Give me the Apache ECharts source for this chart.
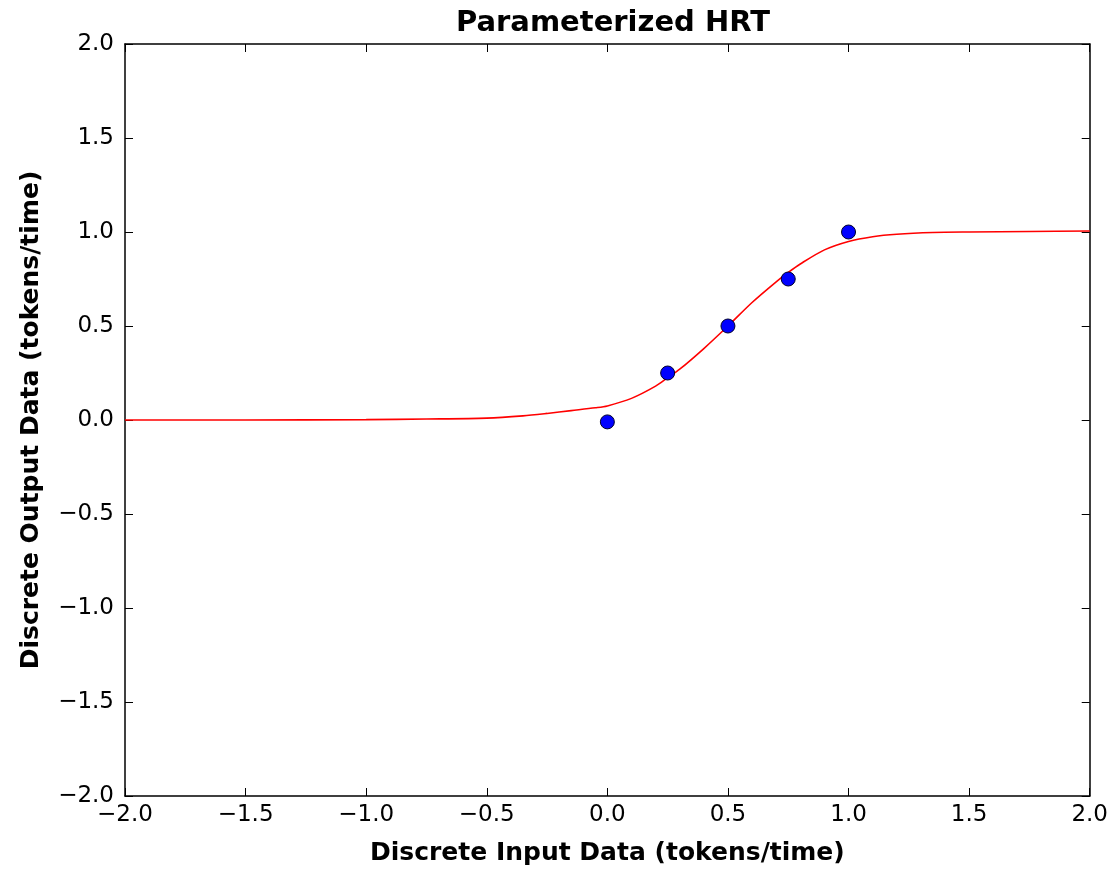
<!DOCTYPE html>
<html><head><meta charset="utf-8">
<script src="https://cdn.jsdelivr.net/npm/echarts@6/dist/echarts.min.js"></script>
<style>html,body{margin:0;padding:0;background:#fff}#c{width:1111px;height:871px}</style>
</head><body><div id="c"></div>
<script>
// Fitted HRT curve
var curveX = [-2.0,-1.5,-1.0,-0.75,-0.5,-0.35,-0.25,-0.15,-0.05,0.0,0.1,0.2,0.25,0.3,0.4,0.5,0.6,0.7,0.75,0.8,0.9,1.0,1.1,1.2,1.35,1.5,1.75,2.0];
var curveY = [0.0,0.0,0.002,0.005,0.01,0.022,0.035,0.05,0.065,0.075,0.115,0.18,0.225,0.27,0.38,0.5,0.625,0.735,0.785,0.83,0.905,0.95,0.975,0.988,0.997,1.0,1.003,1.005];
// Observed discrete data points
var pointX = [0.0,0.25,0.5,0.75,1.0];
var pointY = [-0.01,0.25,0.5,0.75,1.0];
var xTicks = [-2.0,-1.5,-1.0,-0.5,0.0,0.5,1.0,1.5,2.0];
var yTicks = [-2.0,-1.5,-1.0,-0.5,0.0,0.5,1.0,1.5,2.0];

var FONT = "DejaVu Sans";
function fmt(v){ var s = v.toFixed(1); return s.replace('-', '\u2212'); }
var curve = curveX.map(function(x,i){return [x, curveY[i]];});
var pts = pointX.map(function(x,i){return [x, pointY[i]];});

var tickCommon = {show:true, inside:true, length:8, lineStyle:{color:'#000', width:1}};
var lineCommon = {show:true, onZero:false, lineStyle:{color:'#000', width:1.5}};

var chart = echarts.init(document.getElementById('c'), null, {renderer:'canvas'});
chart.setOption({
  backgroundColor:'#fff',
  animation:false,
  title:{text:'Parameterized HRT', left:608, textAlign:'center', top:4, textStyle:{fontFamily:FONT, fontWeight:'bold', fontSize:29, color:'#000'}},
  grid:{left:125, right:19, top:44, bottom:74, containLabel:false},
  xAxis:[{
    type:'value', min:xTicks[0], max:xTicks[xTicks.length-1], interval:0.5, position:'bottom',
    name:'Discrete Input Data (tokens/time)', nameLocation:'middle', nameGap:45,
    nameTextStyle:{fontFamily:FONT, fontWeight:'bold', fontSize:25, color:'#000'},
    axisLine:lineCommon, axisTick:tickCommon, splitLine:{show:false},
    axisLabel:{fontFamily:FONT, fontSize:23, color:'#000', margin:8, formatter:fmt, showMinLabel:true, showMaxLabel:true}
  },{
    type:'value', min:xTicks[0], max:xTicks[xTicks.length-1], interval:0.5, position:'top',
    axisLine:lineCommon, axisTick:tickCommon, splitLine:{show:false}, axisLabel:{show:false}
  }],
  yAxis:[{
    type:'value', min:yTicks[0], max:yTicks[yTicks.length-1], interval:0.5, position:'left',
    name:'Discrete Output Data (tokens/time)', nameLocation:'middle', nameGap:81,
    nameTextStyle:{fontFamily:FONT, fontWeight:'bold', fontSize:25, color:'#000'},
    axisLine:lineCommon, axisTick:tickCommon, splitLine:{show:false},
    axisLabel:{fontFamily:FONT, fontSize:23, color:'#000', margin:11, formatter:fmt, showMinLabel:true, showMaxLabel:true}
  },{
    type:'value', min:yTicks[0], max:yTicks[yTicks.length-1], interval:0.5, position:'right',
    axisLine:lineCommon, axisTick:tickCommon, splitLine:{show:false}, axisLabel:{show:false}
  }],
  series:[{
    type:'line', data:curve, smooth:0.3, showSymbol:false, symbol:'none',
    lineStyle:{color:'#ff0000', width:1.6}, z:2
  },{
    type:'scatter', data:pts, symbol:'circle', symbolSize:14,
    itemStyle:{color:'#0000ff', borderColor:'#00002a', borderWidth:1, opacity:1}, z:3
  }]
});
</script></body></html>
